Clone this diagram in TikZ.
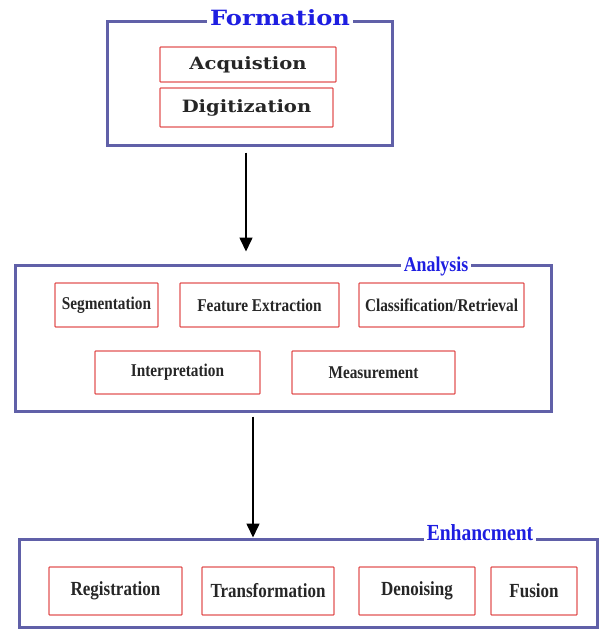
\documentclass[tikz,border=0pt]{standalone}
\usepackage{fontspec}
\setmainfont{Liberation Serif}
\newfontfamily\widefont[FakeStretch=1.15]{DejaVu Serif}
\newfontfamily\narrowfont[FakeStretch=0.85]{Liberation Serif}
\usepackage{xcolor}
\usetikzlibrary{arrows.meta, positioning, calc}

\definecolor{frameblue}{RGB}{96,96,168}
\definecolor{boxred}{RGB}{226,84,84}
\definecolor{titleblue}{RGB}{30,30,225}

\begin{document}
\begin{tikzpicture}[x=1pt, y=-1pt,
  stage/.style={rectangle, draw=frameblue, line width=3pt, inner sep=0pt},
  task/.style={rectangle, draw=boxred, line width=1.3pt, rounded corners=0.8pt, inner sep=0pt, text=black!85},
  widetask/.style={task, font=\widefont\bfseries\fontsize{17}{20}\selectfont},
  slimtask/.style={task, font=\narrowfont\bfseries\fontsize{18}{21}\selectfont},
  bigtask/.style={task, font=\narrowfont\bfseries\fontsize{20}{23}\selectfont},
  title/.style={fill=white, inner xsep=3pt, inner ysep=0pt, text=titleblue},
  line/.style={draw, line width=1.6pt, -{Triangle[length=14pt, width=13pt]}}
]
  \useasboundingbox (0,0) rectangle (600,629);

  \node[stage, minimum width=285pt, minimum height=124pt] (form) at (249.5,83) {};
  \node[title, font=\widefont\bfseries\fontsize{21}{24}\selectfont] (formt) at (280,18) {Formation};
  \node[widetask, minimum width=176pt, minimum height=35pt] (acq) at (248,64.5) {Acquistion};
  \node[widetask, minimum width=173pt, minimum height=39pt] (dig) at (246.5,107.5) {Digitization};

  \node[stage, minimum width=536pt, minimum height=146pt] (ana) at (283,338) {};
  \node[title, font=\narrowfont\bfseries\fontsize{21}{24}\selectfont] (anat) at (436,266) {Analysis};
  \node[slimtask, minimum width=103pt, minimum height=44pt] (seg) at (106.5,305) {Segmentation};
  \node[slimtask, minimum width=159pt, minimum height=44pt] (feat) at (259.5,305) {Feature Extraction};
  \node[slimtask, minimum width=165pt, minimum height=44pt] (cls) at (441.5,305) {Classification/Retrieval};
  \node[slimtask, minimum width=165pt, minimum height=43pt] (interp) at (177.5,372.5) {Interpretation};
  \node[slimtask, minimum width=163pt, minimum height=43pt] (meas) at (373.5,372.5) {Measurement};

  \node[stage, minimum width=578pt, minimum height=88pt] (enh) at (308,583) {};
  \node[title, font=\narrowfont\bfseries\fontsize{23}{26}\selectfont] (enht) at (480,533) {Enhancment};
  \node[bigtask, minimum width=133pt, minimum height=48pt] (reg) at (115.5,591) {Registration};
  \node[bigtask, minimum width=132pt, minimum height=48pt] (trans) at (268,591) {Transformation};
  \node[bigtask, minimum width=116pt, minimum height=48pt] (den) at (417,591) {Denoising};
  \node[bigtask, minimum width=86pt, minimum height=48pt] (fus) at (534,591) {Fusion};

  \path[line, shorten <=6pt, shorten >=12pt] ([xshift=-3.5pt]form.south) -- ([xshift=-3.5pt]form.south |- ana.north);
  \path[line, shorten <=4pt, shorten >=0pt] ([xshift=-30pt]ana.south) -- ([xshift=-30pt]ana.south |- enh.north);
\end{tikzpicture}
\end{document}
